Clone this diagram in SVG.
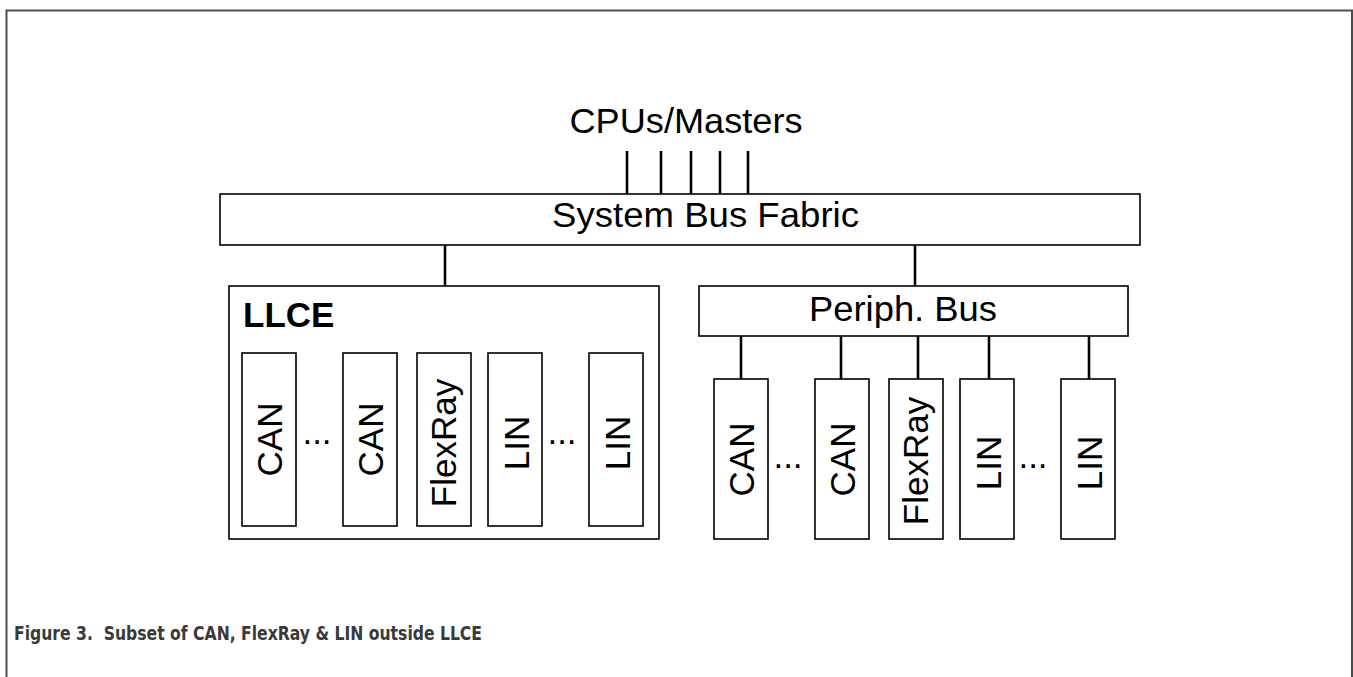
<svg xmlns="http://www.w3.org/2000/svg" width="1353" height="677" viewBox="0 0 1353 677">
<style>
  .box{fill:#fff;stroke:#000;stroke-width:1.6}
  .con{stroke:#000;stroke-width:2.6;fill:none}
  .t{font-family:"Liberation Sans",Arial,sans-serif;font-size:35px;fill:#000}
  .b{font-weight:bold}
  .v{text-anchor:middle}
  .cap{font-family:"DejaVu Sans Condensed","DejaVu Sans",sans-serif;font-weight:bold;font-size:19px;fill:#3a3a3a;white-space:pre}
</style>
<rect width="1353" height="677" fill="#fff"/>
<path d="M6.5,677 V10.5 H1352 V677" fill="none" stroke="#4d4d4d" stroke-width="2"/>

<g id="connectors">
  <line class="con" x1="627" y1="151" x2="627" y2="194"/>
  <line class="con" x1="661" y1="151" x2="661" y2="194"/>
  <line class="con" x1="691" y1="151" x2="691" y2="194"/>
  <line class="con" x1="720" y1="151" x2="720" y2="194"/>
  <line class="con" x1="748" y1="151" x2="748" y2="194"/>
  <line class="con" x1="445" y1="245" x2="445" y2="286"/>
  <line class="con" x1="915" y1="245" x2="915" y2="286"/>
  <line class="con" x1="741" y1="336" x2="741" y2="379"/>
  <line class="con" x1="841" y1="336" x2="841" y2="379"/>
  <line class="con" x1="918" y1="336" x2="918" y2="379"/>
  <line class="con" x1="989" y1="336" x2="989" y2="379"/>
  <line class="con" x1="1089" y1="336" x2="1089" y2="379"/>
</g>

<g id="cpus">
  <text class="t v" x="686" y="133" textLength="233" lengthAdjust="spacingAndGlyphs">CPUs/Masters</text>
</g>

<g id="sysbus">
  <rect class="box" x="220" y="194" width="920" height="51"/>
  <text class="t" x="552" y="227" textLength="307" lengthAdjust="spacingAndGlyphs">System Bus Fabric</text>
</g>

<g id="llce">
  <rect class="box" x="229" y="286" width="430" height="253"/>
  <text class="t b" x="243" y="327">LLCE</text>
</g>

<g id="llce-can1">
  <rect class="box" x="242" y="353" width="54" height="173"/>
  <text class="t v" transform="translate(282,439.5) rotate(-90)">CAN</text>
</g>
<g id="llce-dots1"><text class="t v" x="317" y="444">...</text></g>
<g id="llce-can2">
  <rect class="box" x="343" y="353" width="54" height="173"/>
  <text class="t v" transform="translate(383,439.5) rotate(-90)">CAN</text>
</g>
<g id="llce-flexray">
  <rect class="box" x="417" y="353" width="54" height="173"/>
  <text class="t v" transform="translate(456,443) rotate(-90)">FlexRay</text>
</g>
<g id="llce-lin1">
  <rect class="box" x="488" y="353" width="54" height="173"/>
  <text class="t v" transform="translate(528.5,443) rotate(-90)">LIN</text>
</g>
<g id="llce-dots2"><text class="t v" x="562" y="444">...</text></g>
<g id="llce-lin2">
  <rect class="box" x="589" y="353" width="54" height="173"/>
  <text class="t v" transform="translate(629.5,443) rotate(-90)">LIN</text>
</g>

<g id="periph">
  <rect class="box" x="699" y="286" width="429" height="50"/>
  <text class="t" x="809" y="321" textLength="188" lengthAdjust="spacingAndGlyphs">Periph. Bus</text>
</g>

<g id="p-can1">
  <rect class="box" x="714" y="379" width="54" height="160"/>
  <text class="t v" transform="translate(754,459.5) rotate(-90)">CAN</text>
</g>
<g id="p-dots1"><text class="t v" x="788" y="468">...</text></g>
<g id="p-can2">
  <rect class="box" x="815" y="379" width="54" height="160"/>
  <text class="t v" transform="translate(855,459.5) rotate(-90)">CAN</text>
</g>
<g id="p-flexray">
  <rect class="box" x="889" y="379" width="54" height="160"/>
  <text class="t v" transform="translate(928,461) rotate(-90)">FlexRay</text>
</g>
<g id="p-lin1">
  <rect class="box" x="960" y="379" width="54" height="160"/>
  <text class="t v" transform="translate(1000.5,463) rotate(-90)">LIN</text>
</g>
<g id="p-dots2"><text class="t v" x="1033" y="468">...</text></g>
<g id="p-lin2">
  <rect class="box" x="1061" y="379" width="54" height="160"/>
  <text class="t v" transform="translate(1101.5,463) rotate(-90)">LIN</text>
</g>

<text class="cap" x="14" y="640" textLength="468" lengthAdjust="spacingAndGlyphs" xml:space="preserve">Figure 3.  Subset of CAN, FlexRay &amp; LIN outside LLCE</text>
</svg>
